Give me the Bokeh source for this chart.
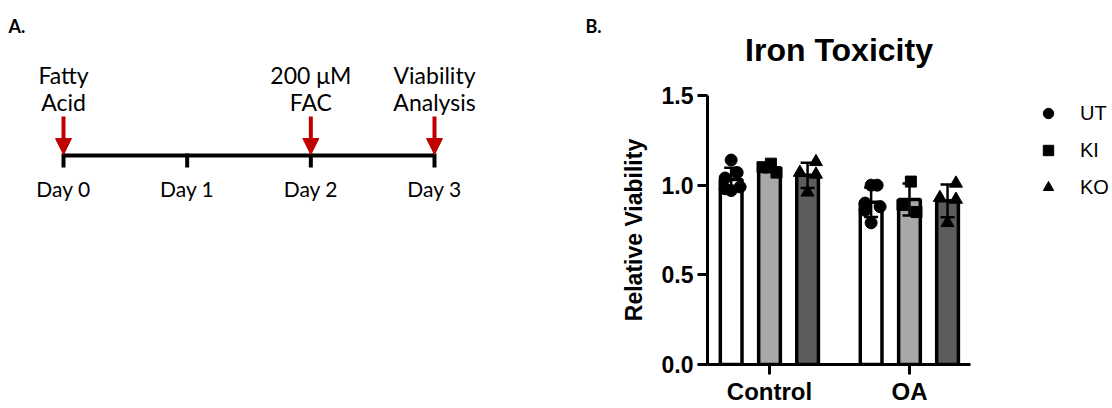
import numpy as np
from bokeh.plotting import figure
from bokeh.layouts import row
from bokeh.models import (Range1d, FixedTicker, PrintfTickFormatter, ColumnDataSource,
                          Whisker, TeeHead, Arrow, NormalHead, Legend, LegendItem)
from bokeh.core.properties import value
from bokeh.embed import file_html
from bokeh.resources import INLINE

# ---------------- Panel A data ----------------
days = [0, 1, 2, 3]
day_labels = ["Day 0", "Day 1", "Day 2", "Day 3"]
event_days = [0, 2, 3]
event_line1 = ["Fatty", "200 μM", "Viability"]
event_line2 = ["Acid", "FAC", "Analysis"]

# ---------------- Panel B data ----------------
categories = ["Control", "OA"]
groups = ["UT", "KI", "KO"]
ut_control = [1.14, 1.07, 1.04, 0.99, 0.98, 0.97]
ut_oa = [1.00, 1.00, 0.90, 0.88, 0.86, 0.79]
ki_control = [1.12, 1.10, 1.07]
ki_oa = [1.02, 0.89, 0.85]
ko_control = [1.13, 1.07, 1.06, 0.96]
ko_oa = [1.01, 0.93, 0.92, 0.79]
y_ticks = [0.0, 0.5, 1.0, 1.5]
title_text = "Iron Toxicity"
y_label = "Relative Viability"

# ---------------- styles / layout ----------------
RED = "#c00000"
ARIAL = "Liberation Sans"
CAL = "Lato"
group_offset = {"UT": -0.274, "KI": 0.0, "KO": 0.272}
group_fill = {"UT": "white", "KI": "#a8a8a8", "KO": "#5c5c5c"}
group_marker = {"UT": "circle", "KI": "square", "KO": "triangle"}
group_msize = {"UT": 12, "KI": 11, "KO": 13}
jitter = {"UT": [0.0, 0.043, -0.043, 0.064, -0.043, 0.0],
          "KI": [0.01, -0.05, 0.05],
          "KO": [0.06, -0.055, 0.06, 0.0]}
series = {"UT": [ut_control, ut_oa], "KI": [ki_control, ki_oa], "KO": [ko_control, ko_oa]}

# ================= Panel A =================
pA = figure(width=610, height=408, x_range=Range1d(-0.5094, 4.4231), y_range=Range1d(408, 0),
            x_axis_type=None, y_axis_type=None, output_backend="svg", toolbar_location=None,
            min_border=0)
pA.grid.visible = False
pA.outline_line_color = None
pA.frame_align = False

# timeline
pA.segment(x0=[days[0]], x1=[days[-1]], y0=[155], y1=[155], line_width=4, line_color="black")
pA.segment(x0=days, x1=days, y0=[153] * len(days), y1=[167] * len(days), line_width=4, line_color="black")
pA.text(x=days, y=[188] * len(days), text=day_labels, text_align="center", text_baseline="alphabetic",
        text_font=value(CAL), text_font_size="21px", text_color="black")

for d in event_days:
    pA.add_layout(Arrow(x_start=d, y_start=116, x_end=d, y_end=154, line_color=RED, line_width=4,
                        end=NormalHead(size=16, fill_color=RED, line_color=RED, line_width=1)))
pA.text(x=event_days, y=[74] * len(event_days), text=event_line1, text_align="center",
        text_baseline="alphabetic", text_font=value(CAL), text_font_size="23px", text_color="black")
pA.text(x=event_days, y=[101] * len(event_days), text=event_line2, text_align="center",
        text_baseline="alphabetic", text_font=value(CAL), text_font_size="23px", text_color="black")

# panel letters
pA.text(x=[-0.4447, 4.221], y=[25, 25], text=["A.", "B."], text_align="left", text_baseline="alphabetic",
        text_font=value(CAL), text_font_style="bold", text_font_size="18px", text_color="black")

# ================= Panel B =================
pB = figure(width=365, height=408, x_range=Range1d(-0.443, 1.436), y_range=Range1d(0, 1.5),
            output_backend="svg", toolbar_location=None,
            min_border_left=97, min_border_right=5, min_border_top=95, min_border_bottom=44)
pB.grid.visible = False
pB.outline_line_color = None
pB.frame_align = False

bar_x, bar_top, bar_col, e_hi, e_lo = [], [], [], [], []
point_xy = {}
for g in groups:
    px, py = [], []
    for ci, cat in enumerate(categories):
        vals = np.array(series[g][ci], dtype=float)
        m = vals.mean()
        sd = vals.std(ddof=1)
        xc = ci + group_offset[g]
        bar_x.append(xc)
        bar_top.append(m)
        bar_col.append(group_fill[g])
        e_hi.append(m + sd)
        e_lo.append(m - sd)
        for k, v in enumerate(vals):
            px.append(xc + jitter[g][k % len(jitter[g])])
            py.append(v)
    point_xy[g] = (px, py)

bars = ColumnDataSource(dict(x=bar_x, top=bar_top, color=bar_col, hi=e_hi, lo=e_lo))
pB.vbar(x="x", top="top", bottom=0, width=0.155, fill_color="color", line_color="black",
        line_width=3.5, source=bars)

for g in groups:
    px, py = point_xy[g]
    pB.scatter(x=px, y=py, marker=group_marker[g], size=group_msize[g],
               fill_color="black", line_color="black")

wh = Whisker(base="x", upper="hi", lower="lo", source=bars, dimension="height",
             line_color="black", line_width=2.5,
             upper_head=TeeHead(size=14, line_width=2.5, line_color="black"),
             lower_head=TeeHead(size=14, line_width=2.5, line_color="black"),
             level="annotation")
pB.add_layout(wh)

# axes
pB.xaxis.ticker = FixedTicker(ticks=list(range(len(categories))))
pB.xaxis.major_label_overrides = {i: c for i, c in enumerate(categories)}
pB.yaxis.ticker = FixedTicker(ticks=y_ticks)
pB.yaxis.formatter = PrintfTickFormatter(format="%.1f")
for ax in [pB.xaxis[0], pB.yaxis[0]]:
    ax.axis_line_width = 3
    ax.axis_line_color = "black"
    ax.major_tick_line_width = 3
    ax.major_tick_line_color = "black"
    ax.major_tick_out = 10
    ax.major_tick_in = 0
    ax.minor_tick_line_color = None
    ax.major_label_text_font = ARIAL
    ax.major_label_text_font_style = "bold"
    ax.major_label_text_color = "black"
pB.xaxis.major_label_text_font_size = "24px"
pB.xaxis.major_label_standoff = 3
pB.yaxis.major_label_text_font_size = "23px"
pB.yaxis.major_label_standoff = 4
pB.yaxis.axis_label = y_label
pB.yaxis.axis_label_text_font = ARIAL
pB.yaxis.axis_label_text_font_style = "bold"
pB.yaxis.axis_label_text_font_size = "23px"
pB.yaxis.axis_label_text_color = "black"
pB.yaxis.axis_label_standoff = 12

pB.title.text = title_text
pB.title.align = "center"
pB.title.text_font = ARIAL
pB.title.text_font_style = "bold"
pB.title.text_font_size = "32px"
pB.title.text_color = "black"
pB.title.standoff = 56

# ================= Legend panel =================
# the same point series, drawn outside this panel's visible range so only the legend keys show
pC = figure(width=137, height=408, x_range=Range1d(0, 1), y_range=Range1d(10, 11),
            x_axis_type=None, y_axis_type=None, output_backend="svg", toolbar_location=None,
            min_border=0)
pC.grid.visible = False
pC.outline_line_color = None
pC.frame_align = False
keys = {}
for g in groups:
    px, py = point_xy[g]
    keys[g] = pC.scatter(x=px, y=py, marker=group_marker[g], size=group_msize[g],
                         fill_color="black", line_color="black")
legend = Legend(items=[LegendItem(label=g, renderers=[keys[g]]) for g in groups],
                location=(60, 208), orientation="vertical",
                glyph_width=26, glyph_height=26, spacing=11, padding=0, margin=0,
                label_standoff=19, border_line_color=None, background_fill_alpha=0,
                label_text_font=ARIAL, label_text_font_size="20px", label_text_color="black")
pC.add_layout(legend)

layout = row(pA, pB, pC)
open("out.html", "w").write(file_html(layout, INLINE))
